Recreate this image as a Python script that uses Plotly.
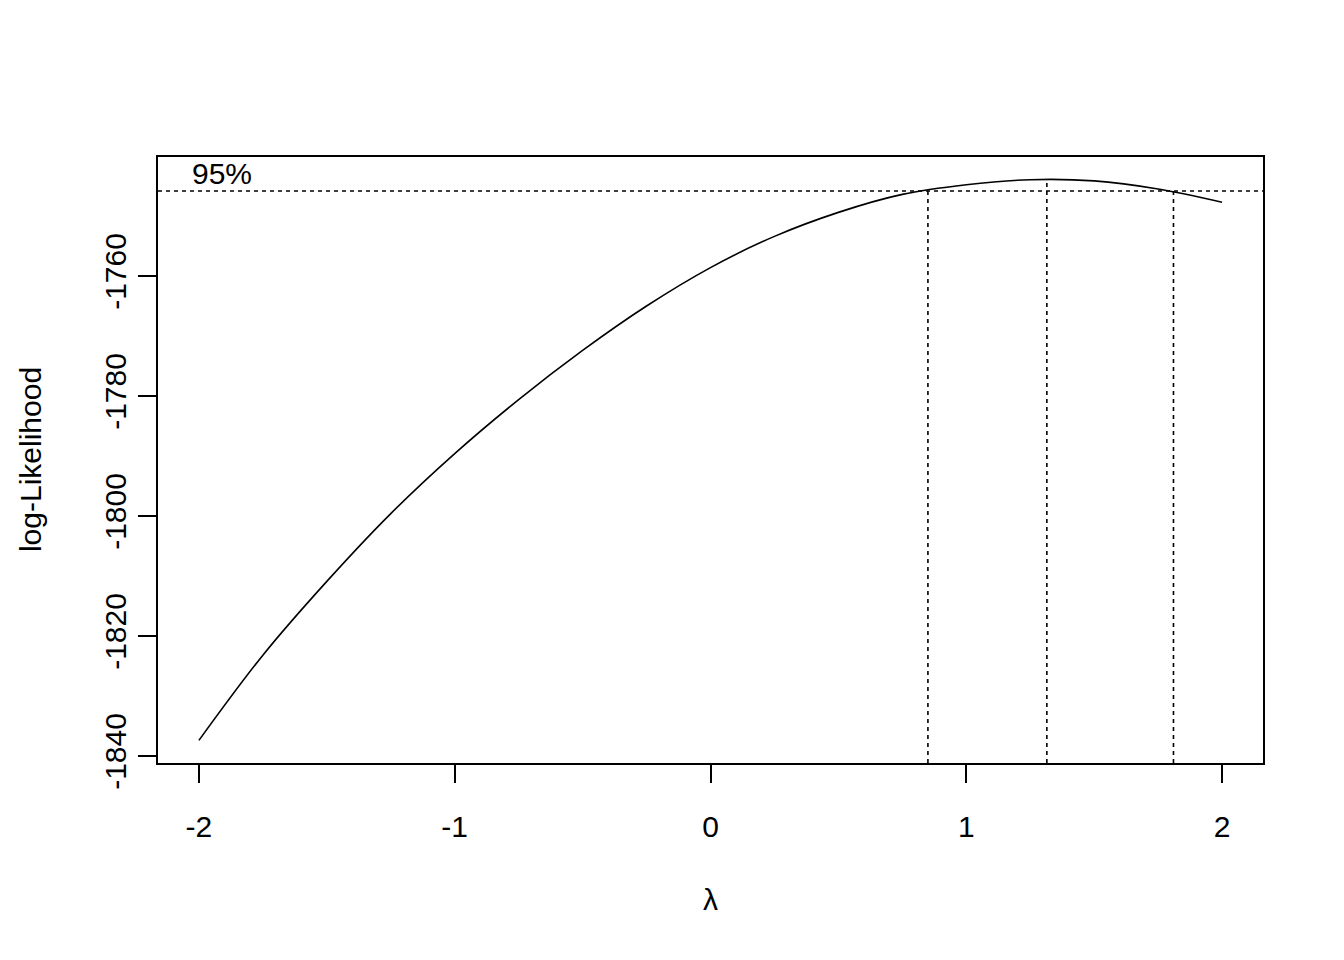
import plotly.graph_objects as go

# Box-Cox profile log-likelihood
lambda_vals = [-2.0, -1.75, -1.5, -1.25, -1.0, -0.75, -0.5, -0.25, 0.0,
               0.25, 0.5, 0.75, 1.0, 1.25, 1.5, 1.75, 2.0]
loglik = [-1837.4, -1823.2, -1810.9, -1799.6, -1789.6, -1780.6, -1772.4,
          -1765.0, -1758.6, -1753.4, -1749.4, -1746.4, -1744.8, -1743.95,
          -1744.15, -1745.5, -1747.7]

lambda_hat = 1.315
loglik_max = -1743.9
ci_lower = 0.85
ci_upper = 1.81
lim_95 = -1745.83

x_range = [-2.16, 2.16]
y_range = [-1841.17, -1740.17]
x_ticks = [-2, -1, 0, 1, 2]
y_ticks = [-1840, -1820, -1800, -1780, -1760]

FONT = "Liberation Sans, Arial, Helvetica, sans-serif"
FS = 30
dot = "4px,4px"

fig = go.Figure()

fig.add_trace(go.Scatter(
    x=lambda_vals, y=loglik, mode="lines",
    line=dict(color="black", width=1.6, shape="spline", smoothing=1.0),
    showlegend=False, hoverinfo="x+y"))

# horizontal 95% line across whole plot
fig.add_trace(go.Scatter(
    x=x_range, y=[lim_95, lim_95], mode="lines",
    line=dict(color="black", width=1.6, dash=dot),
    showlegend=False, hoverinfo="skip"))

# vertical lines
for xv, ytop in [(ci_lower, lim_95), (lambda_hat, loglik_max), (ci_upper, lim_95)]:
    fig.add_trace(go.Scatter(
        x=[xv, xv], y=[y_range[0], ytop], mode="lines",
        line=dict(color="black", width=1.6, dash=dot),
        showlegend=False, hoverinfo="skip"))

fig.add_annotation(x=-1.91, y=-1742.9, text="95%", showarrow=False,
                   xanchor="center", yanchor="middle",
                   font=dict(family=FONT, size=FS, color="black"))

fig.add_annotation(x=0.5, y=-0.226, xref="paper", yref="paper", text="λ",
                   showarrow=False, xanchor="center", yanchor="middle",
                   font=dict(family=FONT, size=FS, color="black"))
fig.add_annotation(x=-0.1158, y=0.5, xref="paper", yref="paper",
                   text="log-Likelihood", textangle=-90, showarrow=False,
                   xanchor="center", yanchor="middle",
                   font=dict(family=FONT, size=FS, color="black"))

axis_common = dict(
    showgrid=False, zeroline=False, showline=True, linecolor="black",
    linewidth=1.6, mirror=True, ticks="outside", ticklen=18, tickwidth=1.6,
    tickcolor="black", tickfont=dict(family=FONT, size=FS, color="black"),
)

fig.update_xaxes(range=x_range, tickvals=x_ticks,
                 ticktext=[str(v) for v in x_ticks],
                 ticklabelstandoff=18, **axis_common)
fig.update_yaxes(range=y_range, tickvals=y_ticks,
                 ticktext=[str(v) for v in y_ticks], tickangle=-90,
                 ticklabelstandoff=0, **axis_common)

# page body has an 8px margin, so the figure is sized/shifted to compensate
fig.update_layout(
    width=1336, height=952,
    margin=dict(l=150, r=81, t=149, b=197, pad=0),
    paper_bgcolor="white", plot_bgcolor="white",
    font=dict(family=FONT, size=FS, color="black"),
    showlegend=False,
)

fig.write_html("out.html")
